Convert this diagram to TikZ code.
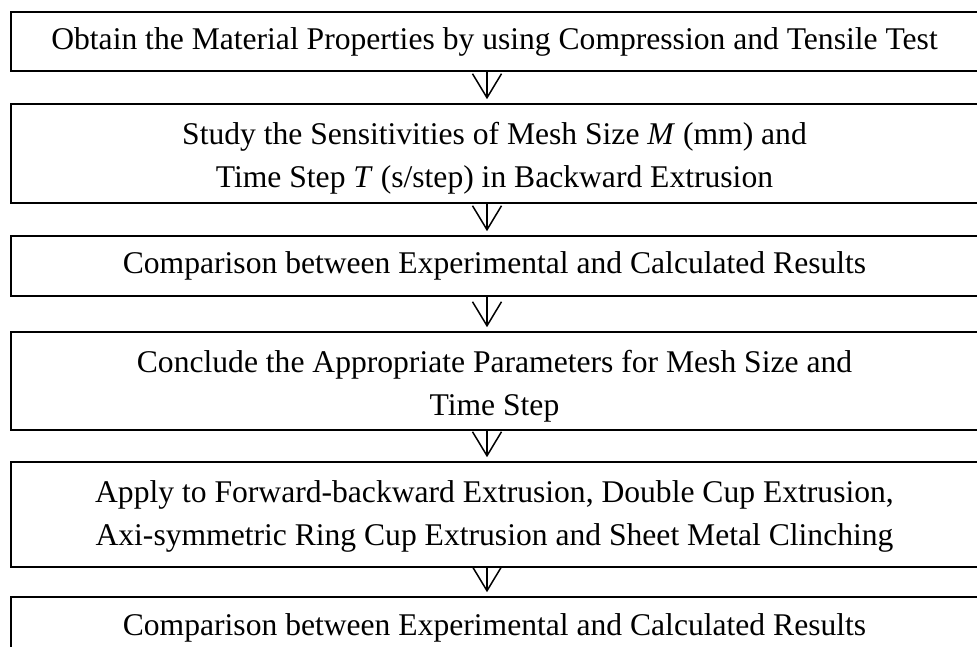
\documentclass[tikz,border=0pt]{standalone}
\usepackage{fontspec}
\setmainfont{Liberation Serif}
\usetikzlibrary{arrows.meta}
\begin{document}
\begin{tikzpicture}[x=1pt,y=-1pt,
  stagebox/.style={draw=black, line width=1.6pt, minimum width=967pt,
    align=center, inner sep=0pt, font=\fontsize{31.6}{43}\selectfont},
  flowarrow/.style={line width=1.5pt,
    -{Straight Barb[length=24pt,width=29pt,line width=1.5pt]}}]
  \useasboundingbox (0,0) rectangle (977,646);
  \clip (0,0) rectangle (977,646);
  \fill[white] (0,0) rectangle (977,646);
  \coordinate (ax) at (487,0);

  \node[stagebox, minimum height=59pt] (b1) at (494.5,41.5)
    {Obtain the Material Properties by using Compression and Tensile Test};
  \node[stagebox, minimum height=99pt, text height=75pt] (b2) at (494.5,153.5)
    {Study the Sensitivities of Mesh Size \textit{M} (mm) and\\
     Time Step \textit{T} (s/step) in Backward Extrusion};
  \node[stagebox, minimum height=60pt] (b3) at (494.5,266)
    {Comparison between Experimental and Calculated Results};
  \node[stagebox, minimum height=98pt, text height=75pt] (b4) at (494.5,381)
    {Conclude the Appropriate Parameters for Mesh Size and\\
     Time Step};
  \node[stagebox, minimum height=105pt, text height=69pt] (b5) at (494.5,514.5)
    {Apply to Forward-backward Extrusion, Double Cup Extrusion,\\
     Axi-symmetric Ring Cup Extrusion and Sheet Metal Clinching};
  \node[stagebox, minimum height=62pt] (b6) at (494.5,628)
    {Comparison between Experimental and Calculated Results};

  \foreach \a/\b in {b1/b2, b2/b3, b3/b4, b4/b5, b5/b6}
    \draw[flowarrow] (\a.south -| ax) -- ([yshift=4pt]\b.north -| ax);
\end{tikzpicture}
\end{document}
